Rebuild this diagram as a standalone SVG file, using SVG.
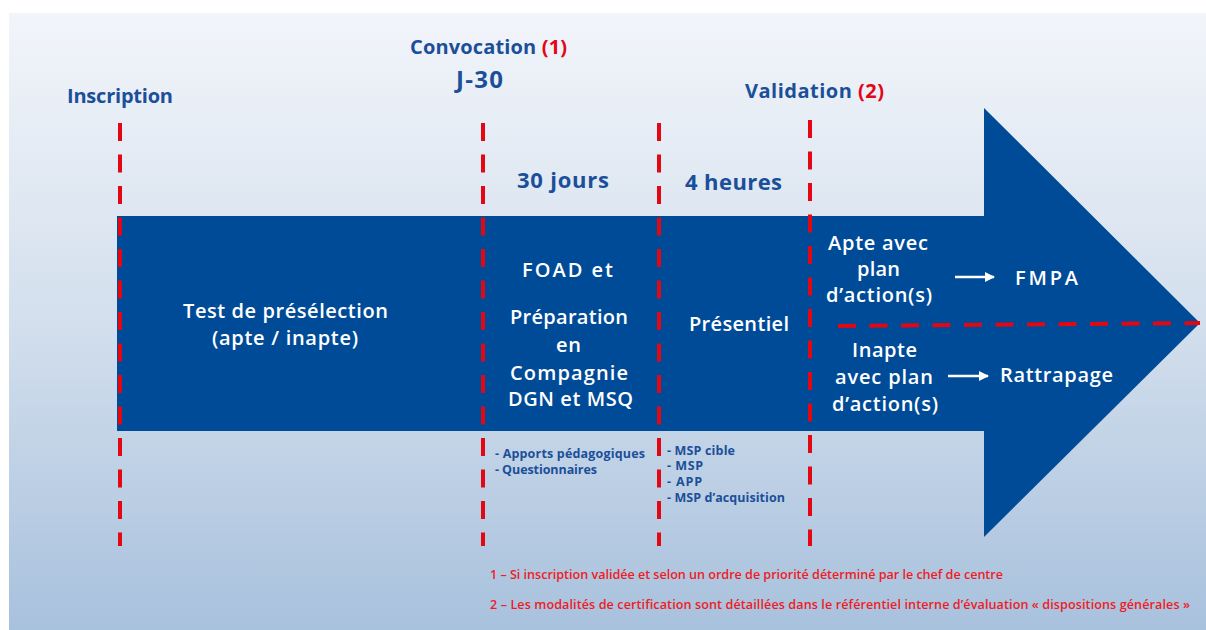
<svg xmlns="http://www.w3.org/2000/svg" width="1206" height="630" viewBox="0 0 1206 630">
<defs>
<linearGradient id="bg" x1="0" y1="0" x2="0" y2="1">
<stop offset="0" stop-color="#f2f5fa"/>
<stop offset="0.5" stop-color="#d3dfed"/>
<stop offset="1" stop-color="#a8c1dd"/>
</linearGradient>
<marker id="wh" viewBox="0 0 10 10" refX="9" refY="5" markerWidth="4" markerHeight="4" orient="auto" markerUnits="strokeWidth">
<path d="M0,0 L10,5 L0,10 z" fill="#ffffff"/>
</marker>
</defs>
<style>
.t{font-family:"Open Sans","Noto Sans",sans-serif;font-weight:700;fill:#1b4f99}
.w{font-family:"Open Sans","Noto Sans",sans-serif;font-weight:600;fill:#ffffff;text-anchor:middle;font-size:20px}
.r{fill:#e30613}
.d{stroke:#e30613;stroke-width:4;stroke-dasharray:18 13.5;fill:none}
.s{font-family:"Open Sans","Noto Sans",sans-serif;font-weight:700;fill:#1b4f99;font-size:12.5px}
.f{font-family:"Open Sans","Noto Sans",sans-serif;font-weight:600;fill:#ee1c25;font-size:12.6px}
.m{text-anchor:middle}
</style>
<rect x="0" y="0" width="1206" height="630" fill="#ffffff"/>
<rect x="9" y="13" width="1197" height="617" fill="url(#bg)"/>
<g id="arrow">
<path d="M117,216 L984,216 L984,108 L1200,323 L984,537 L984,431 L117,431 Z" fill="#004b98"/>
</g>
<g id="connectors">
<line class="d" x1="120" y1="123" x2="120" y2="546"/>
<line class="d" x1="483" y1="123" x2="483" y2="546"/>
<line class="d" x1="659" y1="123" x2="659" y2="546"/>
<line class="d" x1="810" y1="120" x2="810" y2="546"/>
<line class="d" x1="838" y1="326" x2="1200" y2="323"/>
<line x1="955" y1="277" x2="994" y2="277" stroke="#ffffff" stroke-width="2.5" marker-end="url(#wh)"/>
<line x1="948" y1="376" x2="988" y2="376" stroke="#ffffff" stroke-width="2.5" marker-end="url(#wh)"/>
</g>
<g id="inscription"><text class="t m" x="120" y="103" font-size="20" textLength="106">Inscription</text></g>
<g id="convocation">
<text class="t m" x="488.5" y="54" font-size="20" textLength="157">Convocation <tspan class="r">(1)</tspan></text>
<text class="t m" x="479.5" y="88" font-size="24" textLength="47">J-30</text>
</g>
<g id="validation"><text class="t m" x="814.5" y="98" font-size="20" textLength="139">Validation <tspan class="r">(2)</tspan></text></g>
<g id="jours"><text class="t m" x="563" y="188" font-size="22" textLength="92">30 jours</text></g>
<g id="heures"><text class="t m" x="733.5" y="190" font-size="22" textLength="97">4 heures</text></g>
<g id="test">
<text class="w" x="285.5" y="318" textLength="205">Test de présélection</text>
<text class="w" x="285" y="345" textLength="146">(apte / inapte)</text>
</g>
<g id="foad">
<text class="w" x="567.5" y="277" font-size="21" textLength="91">FOAD et</text>
<text class="w" x="569" y="324" textLength="118">Préparation</text>
<text class="w" x="568.5" y="352" textLength="25">en</text>
<text class="w" x="569" y="380" textLength="118">Compagnie</text>
<text class="w" x="570.5" y="406" textLength="125">DGN et MSQ</text>
</g>
<g id="presentiel"><text class="w" x="739" y="331" textLength="100">Présentiel</text></g>
<g id="apte">
<text class="w" x="878" y="250" textLength="100">Apte avec</text>
<text class="w" x="878.5" y="276" textLength="43">plan</text>
<text class="w" x="879" y="302" textLength="106">d’action(s)</text>
</g>
<g id="fmpa"><text class="w" x="1046.5" y="285" font-size="23" textLength="63">FMPA</text></g>
<g id="inapte">
<text class="w" x="884.5" y="357" textLength="65">Inapte</text>
<text class="w" x="884" y="384" textLength="98">avec plan</text>
<text class="w" x="885" y="411" textLength="106">d’action(s)</text>
</g>
<g id="rattrapage"><text class="w" x="1056.5" y="382" textLength="113">Rattrapage</text></g>
<g id="apports">
<text class="s" x="495" y="458" textLength="150">- Apports pédagogiques</text>
<text class="s" x="495" y="474" textLength="102">- Questionnaires</text>
</g>
<g id="msp">
<text class="s" x="667" y="455" textLength="68">- MSP cible</text>
<text class="s" x="667" y="470" textLength="36">- MSP</text>
<text class="s" x="667" y="486" textLength="35">- APP</text>
<text class="s" x="667" y="502" textLength="118">- MSP d’acquisition</text>
</g>
<g id="notes">
<text class="f" x="490" y="579" textLength="513">1 – Si inscription validée et selon un ordre de priorité déterminé par le chef de centre</text>
<text class="f" x="490" y="609" textLength="700">2 – Les modalités de certification sont détaillées dans le référentiel interne d’évaluation « dispositions générales »</text>
</g>
</svg>
